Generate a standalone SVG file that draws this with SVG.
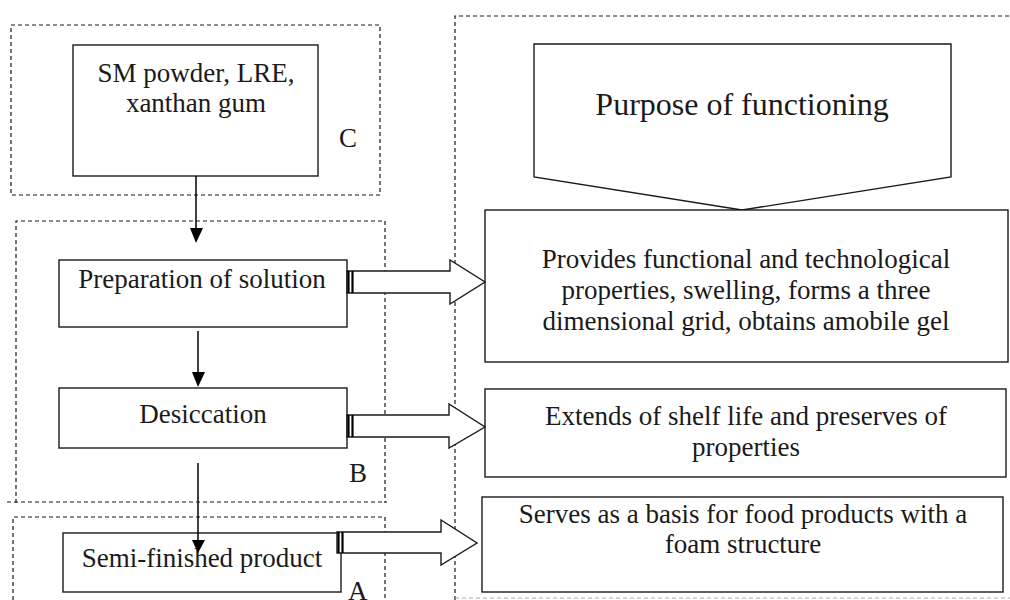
<svg xmlns="http://www.w3.org/2000/svg" width="1010" height="600" viewBox="0 0 1010 600">
<defs>
<style>
.t{font-family:"Liberation Serif","Times New Roman",serif;font-size:27px;fill:#1a1a1a;text-anchor:middle}
.l{font-family:"Liberation Serif","Times New Roman",serif;font-size:27px;fill:#1a1a1a}
.box{fill:#fff;stroke:#1a1a1a;stroke-width:1.4}
.dash{fill:none;stroke:#1a1a1a;stroke-width:1.2;stroke-dasharray:4 3}
.conn{stroke:#000;stroke-width:1.5;fill:none}
.blk{fill:#fff;stroke:#1a1a1a;stroke-width:1.4;stroke-linejoin:miter}
.bar{stroke:#000;stroke-width:2.2}
</style>
<marker id="ah" markerWidth="12" markerHeight="15" refX="6" refY="15" orient="auto" markerUnits="userSpaceOnUse" viewBox="0 0 12 15">
<path d="M0,0 L12,0 L6,15 Z" fill="#000" transform="rotate(-90 6 7.5) translate(0 0)"/>
</marker>
</defs>

<g id="groups">
<rect class="dash" x="11" y="25" width="369" height="170"/>
<path class="dash" d="M16,503 L16,221 L385,221 L385,503 M7,502 L387,502"/>
<path class="dash" d="M13,600 L13,517 L385,517 L385,600"/>
<path class="dash" d="M455,600 L455,16 L1010,16"/>
<path d="M455,598 L1010,598" fill="none" stroke="#aaa" stroke-width="1.2" stroke-dasharray="4 3"/>
</g>

<g id="node-inputs">
<rect class="box" x="73" y="45" width="245" height="131"/>
<text class="t" x="196" y="82">SM powder, LRE,</text>
<text class="t" x="196" y="112">xanthan gum</text>
<text class="l" x="339" y="147">C</text>
</g>

<g id="node-preparation">
<rect class="box" x="59" y="260" width="288" height="67"/>
<text class="t" x="202" y="288">Preparation of solution</text>
</g>

<g id="node-desiccation">
<rect class="box" x="59" y="388" width="288" height="60"/>
<text class="t" x="203" y="423">Desiccation</text>
<text class="l" x="349" y="482">B</text>
</g>

<g id="node-semifinished">
<rect class="box" x="63" y="533" width="278" height="59"/>
<text class="t" x="202" y="567">Semi-finished product</text>
<text class="l" x="348" y="600">A</text>
</g>

<g id="node-purpose">
<polygon class="box" points="534,44 951,44 951,177 742,210 534,177"/>
<text class="t" x="742" y="115" style="font-size:32px">Purpose of functioning</text>
</g>

<g id="node-provides">
<rect class="box" x="485" y="210" width="523" height="152"/>
<text class="t" x="746" y="268">Provides functional and technological</text>
<text class="t" x="746" y="299">properties, swelling, forms a three</text>
<text class="t" x="746" y="330">dimensional grid, obtains amobile gel</text>
</g>

<g id="node-extends">
<rect class="box" x="485" y="389" width="521" height="88"/>
<text class="t" x="746" y="425">Extends of shelf life and preserves of</text>
<text class="t" x="746" y="456">properties</text>
</g>

<g id="node-serves">
<rect class="box" x="482" y="497" width="521" height="95"/>
<text class="t" x="743" y="523">Serves as a basis for food products with a</text>
<text class="t" x="743" y="553">foam structure</text>
</g>

<g id="connectors">
<line class="conn" x1="196" y1="176" x2="196" y2="229"/>
<polygon points="190,228 203,228 196,243" fill="#000"/>
<line class="conn" x1="198" y1="331" x2="198" y2="373"/>
<polygon points="192,372 205,372 198,387" fill="#000"/>
<line class="conn" x1="198" y1="463" x2="198" y2="541"/>
<polygon points="192,540 205,540 198,553" fill="#000"/>

<polygon class="blk" points="347,271 450,271 450,260 485,282 450,304 450,293 347,293"/>
<line class="bar" x1="348.5" y1="271" x2="348.5" y2="293"/>
<line class="bar" x1="352.5" y1="271" x2="352.5" y2="293"/>

<polygon class="blk" points="347,415 449,415 449,404 485,427 449,448 449,437 347,437"/>
<line class="bar" x1="348.5" y1="415" x2="348.5" y2="437"/>
<line class="bar" x1="352.5" y1="415" x2="352.5" y2="437"/>

<polygon class="blk" points="337,532 441,532 441,520 477,543 441,565 441,553 337,553"/>
<line class="bar" x1="338.5" y1="532" x2="338.5" y2="553"/>
<line class="bar" x1="342.5" y1="532" x2="342.5" y2="553"/>
</g>
</svg>
